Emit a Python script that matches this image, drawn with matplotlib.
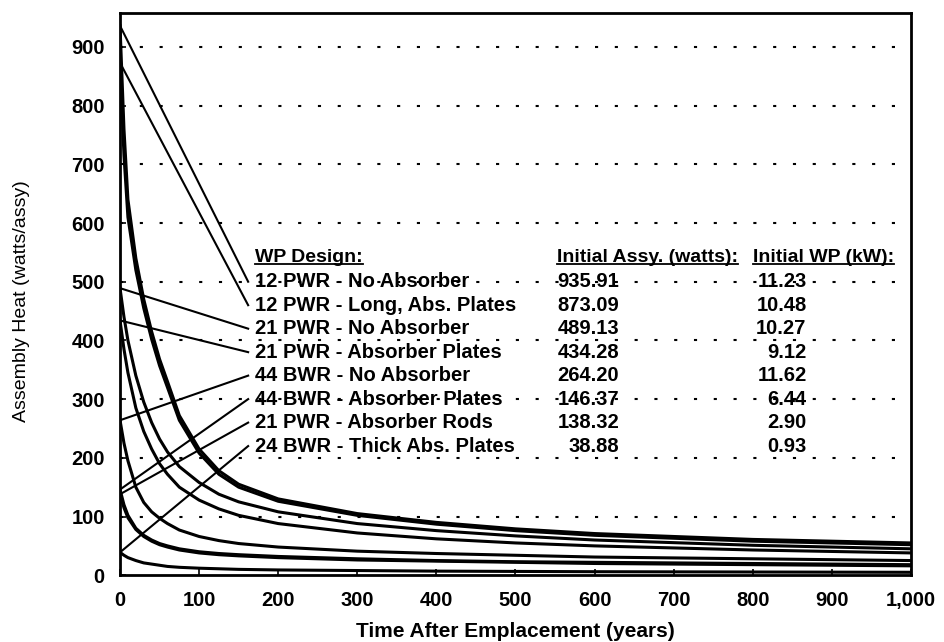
import numpy as np
import matplotlib
matplotlib.use("Agg")
import matplotlib.pyplot as plt

plt.rcParams['font.family'] = ['Liberation Sans', 'DejaVu Sans']

# time after emplacement (years) at which curve values were read
years = [0, 5, 10, 20, 30, 40, 50, 60, 75, 100, 125, 150, 200, 300, 400, 500, 600, 800, 1000]

# assembly heat (watts/assy)
pwr12_no_abs   = [936, 760, 640, 540, 470, 415, 368, 330, 272, 215, 178, 155, 130, 105, 90, 79, 71, 61, 55]
pwr12_long_abs = [873, 715, 610, 520, 455, 402, 357, 320, 264, 208, 172, 150, 126, 102, 87, 76, 68, 58, 52]
pwr21_no_abs   = [489, 440, 400, 340, 295, 260, 232, 210, 185, 158, 138, 125, 108, 88, 76, 67, 60, 51, 45]
pwr21_abs_pl   = [434, 385, 345, 285, 245, 215, 190, 172, 150, 128, 113, 102, 88, 72, 62, 55, 50, 43, 38]
bwr44_no_abs   = [264, 225, 195, 150, 124, 108, 97, 88, 77, 66, 59, 54, 48, 41, 37, 34, 31, 28, 25]
bwr44_abs_pl   = [146, 120, 102, 80, 68, 60, 54, 50, 45, 40, 37, 35, 32, 28, 25, 23, 22, 20, 18]
pwr21_abs_rods = [138, 115, 98, 78, 66, 58, 52, 48, 43, 38, 35, 33, 30, 26, 24, 22, 20, 18, 16]
bwr24_thick    = [39, 34, 30, 25, 21, 19, 17, 15, 13.5, 12, 11, 10, 9, 8, 7, 6.5, 6, 5.5, 5]

designs = ["12 PWR - No Absorber", "12 PWR - Long, Abs. Plates", "21 PWR - No Absorber",
           "21 PWR - Absorber Plates", "44 BWR - No Absorber", "44 BWR - Absorber Plates",
           "21 PWR - Absorber Rods", "24 BWR - Thick Abs. Plates"]
initial_assy = ["935.91", "873.09", "489.13", "434.28", "264.20", "146.37", "138.32", "38.88"]
initial_wp = ["11.23", "10.48", "10.27", "9.12", "11.62", "6.44", "2.90", "0.93"]
curves = [pwr12_no_abs, pwr12_long_abs, pwr21_no_abs, pwr21_abs_pl,
          bwr44_no_abs, bwr44_abs_pl, pwr21_abs_rods, bwr24_thick]

x_ticks = [0, 100, 200, 300, 400, 500, 600, 700, 800, 900, 1000]
x_labels = ["0", "100", "200", "300", "400", "500", "600", "700", "800", "900", "1,000"]
y_ticks = [0, 100, 200, 300, 400, 500, 600, 700, 800, 900]

fig = plt.figure(figsize=(9.45, 6.42), dpi=100)
ax = fig.add_axes([0.127, 0.104, 0.837, 0.876])

for yv in y_ticks[1:]:
    ax.axhline(yv, color='black', lw=1.5, ls=(0, (1.5, 8)), zorder=1)

for vals in curves:
    ax.plot(years, vals, color='black', lw=2.2, zorder=3)

# table text
row_y = [500, 460, 420, 380, 340, 300, 260, 220]
head_y = 541
fs = 14.5
hdr_wp = ax.text(171, head_y, "WP Design:", fontsize=14, fontweight='bold', va='center')
hdr_as = ax.text(552, head_y, "Initial Assy. (watts):", fontsize=14, fontweight='bold', va='center')
hdr_kw = ax.text(800, head_y, "Initial WP (kW):", fontsize=14, fontweight='bold', va='center')
for i in range(len(designs)):
    ax.text(171, row_y[i], designs[i], fontsize=fs, fontweight='bold', va='center')
    ax.text(631, row_y[i], initial_assy[i], fontsize=fs, fontweight='bold', va='center', ha='right')
    ax.text(868, row_y[i], initial_wp[i], fontsize=fs, fontweight='bold', va='center', ha='right')
    # leader line from curve start to label
    ax.plot([0, 162], [curves[i][0], row_y[i]], color='black', lw=1.5, zorder=3)

ax.set_xlim(0, 1000)
ax.set_ylim(0, 958)
ax.set_xticks(x_ticks)
ax.set_xticklabels(x_labels)
ax.set_yticks(y_ticks)
ax.tick_params(direction='in', length=4, width=1.2, labelsize=14.5, pad=11)
for lab in ax.get_xticklabels() + ax.get_yticklabels():
    lab.set_fontweight('bold')
for sp in ax.spines.values():
    sp.set_linewidth(2)

ax.set_xlabel("Time After Emplacement (years)", fontsize=15, fontweight='bold')
ax.xaxis.set_label_coords(0.5, -0.084)
ax.set_ylabel("Assembly Heat (watts/assy)", fontsize=14)
ax.yaxis.set_label_coords(-0.114, 0.488)

# underline the column headers
fig.canvas.draw()
rend = fig.canvas.get_renderer()
inv = ax.transData.inverted()
for t in [hdr_wp, hdr_as, hdr_kw]:
    bb = t.get_window_extent(rend)
    (x0, y0), (x1, y1) = inv.transform([(bb.x0, bb.y0 + 2), (bb.x1, bb.y0 + 2)])
    ax.plot([x0, x1], [y0, y1], color='black', lw=1.3)

fig.savefig("out.png", dpi=100)
